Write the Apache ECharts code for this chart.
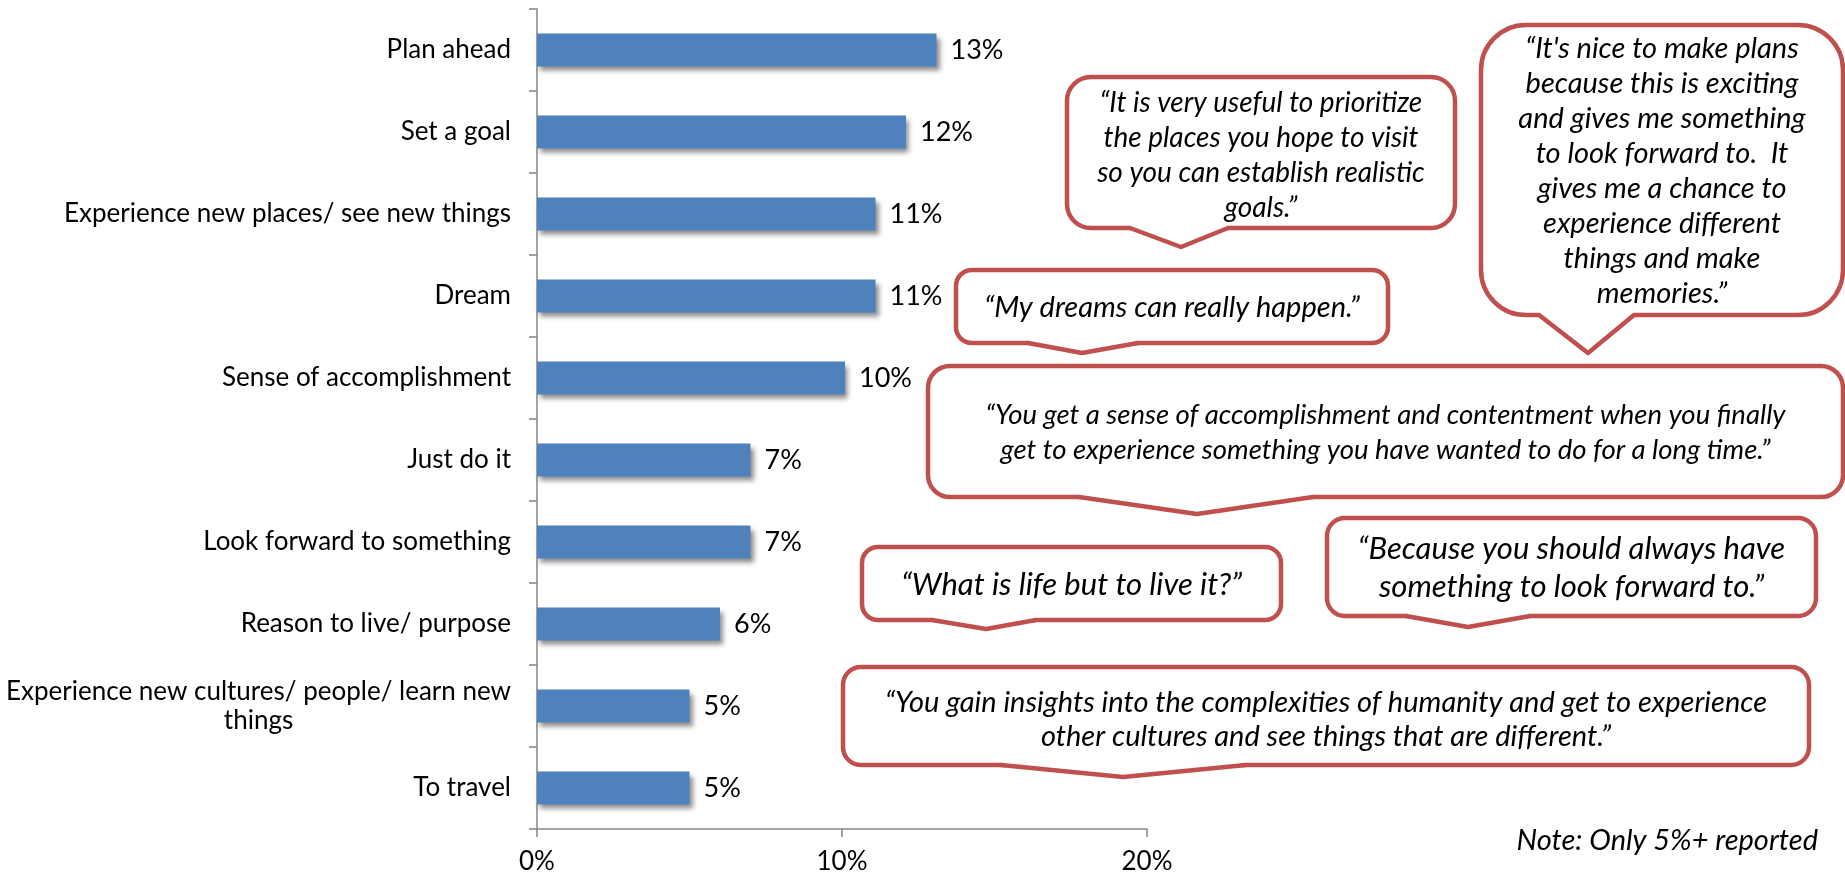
<!DOCTYPE html>
<html>
<head>
<meta charset="utf-8">
<script src="https://cdn.jsdelivr.net/npm/echarts@6/dist/echarts.min.js"></script>
<style>
  html, body { margin: 0; padding: 0; background: #fff; }
  #chart { width: 1845px; height: 875px; }
</style>
</head>
<body>
<div id="chart"></div>
<script>
var categories = [
  'Plan ahead',
  'Set a goal',
  'Experience new places/ see new things',
  'Dream',
  'Sense of accomplishment',
  'Just do it',
  'Look forward to something',
  'Reason to live/ purpose',
  'Experience new cultures/ people/ learn new things',
  'To travel'
];
var values = [13.1, 12.1, 11.1, 11.1, 10.1, 7.0, 7.0, 6.0, 5.0, 5.0];
var xTicks = [0, 10, 20];

var FONT = 'Lato';
var RED = '#C0504D';

// callouts: box x1,y1,x2,y2, corner radius, pointer base left/right, pointer tip x,y
var quotes = [
  {box: [1067, 77, 1455, 228, 24, 1131, 1227, 1181, 247], text: '\u201cIt is very useful to prioritize\nthe places you hope to visit\nso you can establish realistic\ngoals.\u201d', cy: 155, lh: 35, fs: 28},
  {box: [1481, 25, 1843, 315, 45, 1540, 1633, 1588, 353], text: '\u201cIt\'s nice to make plans\nbecause this is exciting\nand gives me something\nto look forward to.  It\ngives me a chance to\nexperience different\nthings and make\nmemories.\u201d', cy: 171, lh: 35, fs: 29},
  {box: [956, 270, 1388, 343, 16, 1029, 1137, 1082, 353], text: '\u201cMy dreams can really happen.\u201d', cy: 308, lh: 35, fs: 29},
  {box: [928, 366, 1843, 497, 22, 1080, 1312, 1197, 514], text: '\u201cYou get a sense of accomplishment and contentment when you finally\nget to experience something you have wanted to do for a long time.\u201d', cy: 433, lh: 35, fs: 27.5},
  {box: [862, 547, 1281, 620, 16, 933, 1035, 986, 629], text: '\u201cWhat is life but to live it?\u201d', cy: 585, lh: 35, fs: 31},
  {box: [1327, 518, 1816, 616, 18, 1407, 1529, 1468, 627], text: '\u201cBecause you should always have\nsomething to look forward to.\u201d', cy: 568, lh: 38, fs: 31},
  {box: [843, 667, 1809, 765, 18, 1002, 1245, 1123, 777], text: '\u201cYou gain insights into the complexities of humanity and get to experience\nother cultures and see things that are different.\u201d', cy: 720, lh: 34, fs: 29}
];

var graphics = [];
quotes.forEach(function (q, i) {
  var b = q.box;
  var z = 10 + i * 4;
  graphics.push({
    type: 'rect', z: z,
    shape: {x: b[0], y: b[1], width: b[2] - b[0], height: b[3] - b[1], r: b[4]},
    style: {fill: '#fff', stroke: RED, lineWidth: 4.5}
  });
  graphics.push({
    type: 'polygon', z: z + 1,
    shape: {points: [[b[5], b[3] - 3], [b[5], b[3]], [b[7], b[8]], [b[6], b[3]], [b[6], b[3] - 3]]},
    style: {fill: '#fff', stroke: null}
  });
  graphics.push({
    type: 'polyline', z: z + 2,
    shape: {points: [[b[5] - 1, b[3]], [b[7], b[8]], [b[6] + 1, b[3]]]},
    style: {fill: null, stroke: RED, lineWidth: 4.5, lineJoin: 'round'}
  });
  graphics.push({
    type: 'text', z: z + 3,
    x: (b[0] + b[2]) / 2,
    y: q.cy,
    style: {
      text: q.text,
      font: 'italic ' + q.fs + 'px ' + FONT,
      fill: '#000',
      align: 'center',
      verticalAlign: 'middle',
      lineHeight: q.lh
    }
  });
});
graphics.push({
  type: 'text',
  z: 50,
  right: 27,
  top: 826,
  style: {text: 'Note: Only 5%+ reported', font: 'italic 29px ' + FONT, fill: '#000'}
});

var chart = echarts.init(document.getElementById('chart'));
chart.setOption({
  animation: false,
  grid: {left: 537, top: 9, width: 610, height: 824, containLabel: false},
  xAxis: {
    type: 'value',
    min: 0,
    max: 20,
    interval: 10,
    splitLine: {show: false},
    axisLine: {show: true, lineStyle: {color: '#868686', width: 1.5}},
    axisTick: {show: true, length: 8, lineStyle: {color: '#868686', width: 1.5}},
    axisLabel: {
      margin: 20,
      fontFamily: FONT,
      fontSize: 26,
      color: '#000',
      formatter: function (v) { return xTicks.indexOf(v) >= 0 ? v + '%' : ''; }
    }
  },
  yAxis: {
    type: 'category',
    inverse: true,
    data: categories,
    axisLine: {show: true, lineStyle: {color: '#868686', width: 1.5}},
    axisTick: {show: true, length: 8, lineStyle: {color: '#868686', width: 1.5}},
    axisLabel: {
      margin: 26,
      fontFamily: FONT,
      fontSize: 26,
      color: '#000',
      formatter: function (v) {
        if (v.length > 40) {
          var cut = v.lastIndexOf(' ');
          return '{a|' + v.slice(0, cut) + '}\n{c|' + v.slice(cut + 1) + '}';
        }
        return v;
      },
      rich: {
        a: {fontFamily: FONT, fontSize: 26, color: '#000', lineHeight: 29},
        c: {fontFamily: FONT, fontSize: 26, color: '#000', lineHeight: 29, align: 'center'}
      }
    }
  },
  series: [{
    type: 'bar',
    data: values,
    barWidth: 33,
    itemStyle: {
      color: '#4F81BD',
      shadowColor: 'rgba(0,0,0,0.45)',
      shadowBlur: 5,
      shadowOffsetX: 3,
      shadowOffsetY: 4
    },
    label: {
      show: true,
      position: 'right',
      distance: 14,
      fontFamily: FONT,
      fontSize: 27,
      color: '#000',
      formatter: function (p) { return Math.round(p.value) + '%'; }
    }
  }],
  graphic: graphics
});
</script>
</body>
</html>
